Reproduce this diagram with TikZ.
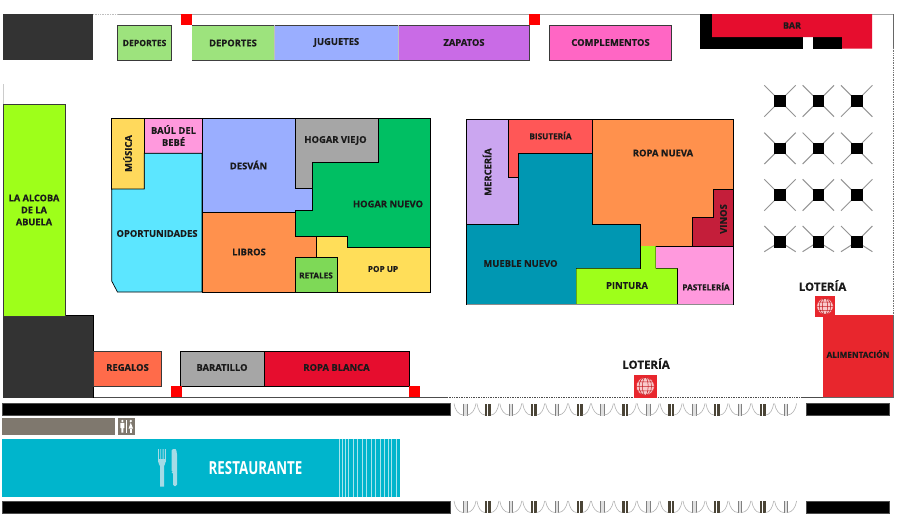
\documentclass[tikz,border=0pt]{standalone}
\usepackage{fontspec}
\setmainfont{Open Sans}[BoldFeatures={FakeBold=0.3}]
\newfontfamily\condfont[FakeStretch=0.74]{Open Sans}
\definecolor{cDep}{HTML}{9DE37D}
\definecolor{cJug}{HTML}{9AAEFF}
\definecolor{cZap}{HTML}{C96BE6}
\definecolor{cCom}{HTML}{FF66C4}
\definecolor{cBar}{HTML}{E60D2E}
\definecolor{cDark}{HTML}{333333}
\definecolor{cLime}{HTML}{9EFF1A}
\definecolor{cYel}{HTML}{FFD95C}
\definecolor{cPink}{HTML}{FF99DD}
\definecolor{cCyan}{HTML}{5CE6FF}
\definecolor{cGrey}{HTML}{A6A6A6}
\definecolor{cGreen}{HTML}{00BF63}
\definecolor{cOrange}{HTML}{FF914D}
\definecolor{cRet}{HTML}{7ED957}
\definecolor{cPop}{HTML}{FFDE59}
\definecolor{cMer}{HTML}{CBA6F0}
\definecolor{cBis}{HTML}{FF5757}
\definecolor{cVin}{HTML}{C41E3A}
\definecolor{cMue}{HTML}{0097B2}
\definecolor{cReg}{HTML}{FF6B4A}
\definecolor{cAli}{HTML}{E8262D}
\definecolor{cTaupe}{HTML}{7F786E}
\definecolor{cRest}{HTML}{00B5CC}
\definecolor{cCut}{HTML}{A5DBE6}
\definecolor{cDoor}{HTML}{4A4436}
\definecolor{cInk}{HTML}{1A1A1A}
\tikzset{
  zone/.style={draw=#1!45!black,line width=.7pt,line join=miter},
  zone/.default=black,
  lab/.style={font=\bfseries\fontsize{9.4}{12}\selectfont,text=cInk,align=center,inner sep=0pt},
  labs/.style={lab,font=\bfseries\fontsize{8.2}{10.5}\selectfont},
  labm/.style={lab,font=\bfseries\fontsize{8.6}{12}\selectfont},
  labl/.style={lab,font=\bfseries\fontsize{11.5}{13}\selectfont},
  wall/.style={draw=black!35,line width=.9pt},
  dash wall/.style={draw=black!55,line width=.7pt,densely dotted},
  redsq/.style={fill=red},
  blackbar/.style={fill=black,draw=black!70,line width=.4pt},
  chairarm/.style={draw=black!42,line width=1pt},
  thinline/.style={draw=black!30,line width=.6pt},
}
\newcommand{\globeicon}[3]{% x y half width
  \fill[cAli] (#1-#3,#2-#3) rectangle (#1+#3,#2+#3);
  \fill[white!75!cAli] (#1,#2) circle (#3*.8);
  \draw[cAli,line width=.55pt] (#1,#2) circle (#3*.8);
  \begin{scope}
    \clip (#1,#2) circle (#3*.8);
    \draw[cAli!85!black,line width=.5pt] (#1,#2) ellipse (#3*.25 and #3*.8) (#1,#2) ellipse (#3*.55 and #3*.8)
      (#1-#3,#2) -- (#1+#3,#2) (#1-#3,#2-#3*.4) -- (#1+#3,#2-#3*.4) (#1-#3,#2+#3*.4) -- (#1+#3,#2+#3*.4);
  \end{scope}
}
\begin{document}
\begin{tikzpicture}[x=1pt,y=-1pt]
\useasboundingbox (0,0) rectangle (903,520);
\fill[white] (0,0) rectangle (903,520);

% walls
\draw[wall] (117,14) -- (700,14);
\draw[dash wall,draw=black!25] (93,14) -- (117,14);
\draw[wall] (872,14) -- (893,14);
\draw[draw=black!60,line width=1pt] (893,14) -- (893,48);
\draw[dash wall] (893,48) -- (893,315);
\draw[wall,draw=black!20] (3,84) -- (3,104);
\draw[draw=black!70,line width=.7pt] (93,397) -- (447,397);
\draw[dash wall,draw=black!70] (447,397) -- (803,397);
\draw[draw=black!70,line width=.8pt] (803,397) -- (823,397);

% dark blocks
\fill[cDark] (3,14) rectangle (93,60);
\draw[zone=black] (3,315) rectangle (93,397.5);
\fill[cDark] (3,315) rectangle (93,397.5);
\draw[black,line width=.7pt] (65,315.5) -- (93,315.5) -- (93,397.5);

% top strip
\draw[zone=gray,fill=cDep] (117.5,25) rectangle (171.5,60);
\node[labm] (dep1) at (144.5,43) {DEPORTES};
\fill[cDep] (192,25) rectangle (274.5,60);
\fill[cJug] (274.5,25) rectangle (398.5,60);
\fill[cZap] (398.5,25) rectangle (529,60);
\draw[black!75,line width=.7pt] (192,25) -- (529,25) -- (529,60) -- (192,60);
\draw[black!25,line width=.6pt] (274.5,25) -- (274.5,60) (398.5,25) -- (398.5,60);
\node[lab] (dep2) at (233,43) {DEPORTES};
\node[lab] (jug) at (336.5,42.5) {JUGUETES};
\node[lab] (zap) at (464,42.5) {ZAPATOS};
\fill[redsq] (181,14) rectangle (192,25);
\fill[redsq] (528.5,14) rectangle (539.5,25);
\draw[zone=gray,fill=cCom] (549.3,25) rectangle (671.7,60);
\node[lab] (com) at (610.5,42.5) {COMPLEMENTOS};

% bar
\fill[black] (700,14) rectangle (803,48.5);
\fill[black] (813,37) rectangle (842,48.5);
\fill[cBar] (712,14) -- (872,14) -- (872,48.5) -- (842,48.5) -- (842,37) -- (712,37) -- cycle;
\node[lab,font=\bfseries\fontsize{9}{11}\selectfont] (bar) at (792,25.5) {BAR};

% left alcove
\draw[zone=gray,fill=cLime] (3,104) rectangle (65,316);
\node[lab,font=\bfseries\fontsize{9.2}{12}\selectfont] (alc) at (34,210) {LA ALCOBA\\DE LA\\ABUELA};

% block one
\draw[zone,fill=cYel] (111.7,118.3) rectangle (144.3,189);
\draw[zone,fill=cPink] (144.3,118.3) rectangle (202,153.3);
\draw[zone,fill=cCyan] (111.7,189) -- (144.3,189) -- (144.3,153.3) -- (202,153.3) -- (202,292) -- (117.5,292) -- (111.7,281) -- cycle;
\draw[zone,fill=cJug] (202,118.3) -- (295,118.3) -- (295,188.7) -- (312,188.7) -- (312,210) -- (295,210) -- (295,212.3) -- (202,212.3) -- cycle;
\draw[zone,fill=cGrey] (295,118.3) -- (378,118.3) -- (378,162.7) -- (312,162.7) -- (312,188.7) -- (295,188.7) -- cycle;
\draw[zone,fill=cGreen] (378,118.3) -- (430,118.3) -- (430,247) -- (347,247) -- (347,236.7) -- (295,236.7) -- (295,210) -- (312,210) -- (312,162.7) -- (378,162.7) -- cycle;
\draw[zone,fill=cOrange] (202,212.3) -- (295,212.3) -- (295,236.7) -- (316,236.7) -- (316,257.7) -- (295,257.7) -- (295,292) -- (202,292) -- cycle;
\draw[zone,fill=cPop] (316,236.7) -- (347,236.7) -- (347,247) -- (430,247) -- (430,292) -- (337,292) -- (337,257.7) -- (316,257.7) -- cycle;
\draw[zone,fill=cRet] (295,257.7) rectangle (337,292);
\node[lab,rotate=90] (mus) at (127.5,153.5) {MÚSICA};
\node[lab] (baul) at (173.5,135.5) {BAÚL DEL\\BEBÉ};
\node[lab] (opo) at (157,233.5) {OPORTUNIDADES};
\node[lab] (des) at (248.5,165) {DESVÁN};
\node[lab] (hv) at (335.5,140.5) {HOGAR VIEJO};
\node[lab] (hn) at (388,204) {HOGAR NUEVO};
\node[lab] (lib) at (249,252) {LIBROS};
\node[labs] (ret) at (316,275.5) {RETALES};
\node[labs] (pop) at (383,269) {POP UP};

% block two
\draw[zone,fill=cMer] (466.7,119) -- (508.3,119) -- (508.3,177.7) -- (518.3,177.7) -- (518.3,224) -- (466.7,224) -- cycle;
\draw[zone,fill=cBis] (508.3,119) -- (592.7,119) -- (592.7,153.3) -- (518.3,153.3) -- (518.3,177.7) -- (508.3,177.7) -- cycle;
\draw[zone,fill=cOrange] (592.7,119) -- (733.3,119) -- (733.3,189) -- (713,189) -- (713,217.7) -- (692.3,217.7) -- (692.3,246) -- (640.7,246) -- (640.7,224) -- (592.7,224) -- cycle;
\draw[zone,fill=cVin] (713,189) -- (733.3,189) -- (733.3,246) -- (692.3,246) -- (692.3,217.7) -- (713,217.7) -- cycle;
\draw[zone,fill=cMue] (518.3,153.3) -- (592.7,153.3) -- (592.7,224) -- (640.7,224) -- (640.7,268.7) -- (576.3,268.7) -- (576.3,304) -- (466.7,304) -- (466.7,224) -- (518.3,224) -- cycle;
\draw[zone,fill=cPink] (655.7,246) -- (733.3,246) -- (733.3,304) -- (677.7,304) -- (677.7,268.7) -- (655.7,268.7) -- cycle;
\fill[cLime] (640.7,246) -- (655.7,246) -- (655.7,268.7) -- (677.7,268.7) -- (677.7,304) -- (576.3,304) -- (576.3,268.7) -- (640.7,268.7) -- cycle;
\draw[black,line width=.7pt] (640.7,246) -- (640.7,268.7);
\draw[black,line width=.7pt] (677.7,268.7) -- (677.7,304);
\draw[black!45,line width=.7pt] (466.7,304) -- (733.3,304);
\node[lab,rotate=90] (mer) at (487,172) {MERCERÍA};
\node[labs] (bis) at (550.5,135.5) {BISUTERÍA};
\node[lab] (rop) at (663,153) {ROPA NUEVA};
\node[lab,rotate=90] (vin) at (723.5,219) {VINOS};
\node[lab] (mue) at (520.5,263.5) {MUEBLE NUEVO};
\node[lab] (pin) at (627,285.5) {PINTURA};
\node[labs] (pas) at (706,286.5) {PASTELERÍA};

% tables
\foreach \tx in {780,818.3,856.7}{
  \foreach \ty in {101,148.3,195}{
    \draw[chairarm] (\tx-15.7,\ty-15.7) -- (\tx+15.7,\ty+15.7) (\tx+15.7,\ty-15.7) -- (\tx-15.7,\ty+15.7);
    \fill[black] (\tx-5.8,\ty-5.8) rectangle (\tx+5.8,\ty+5.8);
  }
  \draw[chairarm] (\tx-15.7,241.7-15.7) -- (\tx,241.7) -- (\tx+15.7,241.7-15.7);
  \draw[chairarm] (\tx-15.7,241.7+10) -- (\tx,241.7) -- (\tx+15.7,241.7+10);
  \fill[black] (\tx-5.8,241.7-5.8) rectangle (\tx+5.8,241.7+5.8);
}

% bottom strip
\draw[zone=gray,fill=cReg] (93,351) rectangle (161.5,386);
\node[lab] (reg) at (127.5,367.5) {REGALOS};
\draw[zone=black,fill=cGrey] (180.3,351) rectangle (264,386);
\draw[zone=black,fill=cBar] (264,351) rectangle (409,386);
\node[lab] (bara) at (222,367.5) {BARATILLO};
\node[lab] (robl) at (336.5,367.5) {ROPA BLANCA};
\fill[redsq] (171,386) rectangle (182,397);
\fill[redsq] (409,386) rectangle (420,397);

% alimentacion
\fill[cAli] (823.3,315) rectangle (893.3,397.3);
\draw[black!60,line width=.6pt] (893.3,315) -- (893.3,397.3) -- (823.3,397.3);
\node[labs] (ali) at (858,354) {ALIMENTACIÓN};

% loterias
\globeicon{645.3}{386.3}{11.3}
\globeicon{825}{306.3}{10.3}
\node[labl] (lot1) at (646,363.5) {LOTERÍA};
\node[labl] (lot2) at (822.5,285.5) {LOTERÍA};

% doors
\foreach \yy in {403.5,501}{
  \foreach \k in {0,...,7}{
    \pgfmathsetmacro{\xa}{465+45.8*\k}
    \fill[black!12] (\xa-1.8,\yy) rectangle (\xa+1.8,\yy+12);
    \draw[thinline,draw=black!50] (\xa-1.8,\yy) -- (\xa-1.8,\yy+12) (\xa+1.8,\yy) -- (\xa+1.8,\yy+12);
    \draw[thinline] (\xa-11,\yy) .. controls (\xa-10,\yy+6.5) and (\xa-6.5,\yy+11.5) .. (\xa-1.8,\yy+11.5);
    \draw[thinline] (\xa+11,\yy) .. controls (\xa+10,\yy+6.5) and (\xa+6.5,\yy+11.5) .. (\xa+1.8,\yy+11.5);
    \ifnum\k<7
      \pgfmathsetmacro{\xb}{487.9+45.8*\k}
      \fill[cDoor] (\xb-3,\yy) rectangle (\xb-.5,\yy+12);
      \fill[cDoor] (\xb+.5,\yy) rectangle (\xb+3,\yy+12);
      \draw[thinline] (\xb-11,\yy) .. controls (\xb-10,\yy+6.5) and (\xb-7,\yy+11.5) .. (\xb-3,\yy+11.5);
      \draw[thinline] (\xb+11,\yy) .. controls (\xb+10,\yy+6.5) and (\xb+7,\yy+11.5) .. (\xb+3,\yy+11.5);
    \fi
  }
  \draw[blackbar] (2,\yy) rectangle (450.5,\yy+12);
  \draw[blackbar] (805.7,\yy) rectangle (889.3,\yy+12);
}

% services
\fill[cTaupe] (1.5,418.3) rectangle (114.5,435);
\fill[cTaupe] (118.3,418.3) rectangle (135,435);
\fill[white] (122.4,421) circle (1.3) (130.8,421) circle (1.3);
\fill[white] (120.4,422.8) rectangle (124.4,428) (121.4,428) rectangle (123.4,432.5);
\fill[white] (130.8,422.6) -- (133,428.6) -- (128.6,428.6) -- cycle;
\fill[white] (129.8,428.5) rectangle (131.8,432.5);
\fill[white] (126.4,420) rectangle (127,433);

% restaurant
\fill[cRest] (1.5,439) rectangle (399.5,496.7);
\foreach \sx in {339.5,342,345.5,348.5,353,357.5,362,366.5,371,375.5,380,384.5,388.5,391,396}{
  \draw[white!65!cRest,line width=.55pt] (\sx,439) -- (\sx,496.7);
}
\fill[cCut] (158,449) rectangle (158.9,461) (160.3,449) rectangle (161.2,461) (162.6,449) rectangle (163.5,461) (164.9,449) rectangle (165.8,461);
\fill[cCut] (158,459) rectangle (165.8,462);
\fill[cCut] (158,461) .. controls (158,464) and (160,465) .. (160,466) -- (160,486.5) -- (164,486.5) -- (164,466) .. controls (164,465) and (165.8,464) .. (165.8,461) -- cycle;
\fill[cCut,rounded corners=1.5pt] (171.5,449) -- (174,449) .. controls (176,449) and (177,452) .. (177,456) -- (177,486) -- (173,486) -- (173,472) -- (171.5,472) -- cycle;
\node[font=\condfont\bfseries\fontsize{18}{20}\selectfont,text=white,inner sep=0pt] (rest) at (255.5,468.5) {RESTAURANTE};
\end{tikzpicture}
\end{document}
